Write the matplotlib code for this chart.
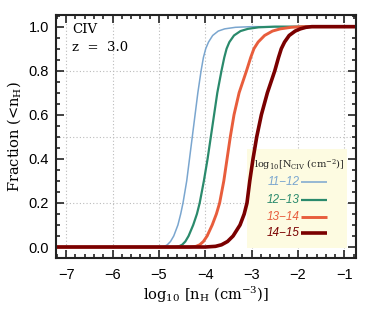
import matplotlib
matplotlib.use("Agg")
import matplotlib.pyplot as plt
from matplotlib.ticker import MultipleLocator
from matplotlib.patches import Rectangle

matplotlib.rcParams["mathtext.fontset"] = "dejavuserif"

# Fraction levels shared by all series
frac = [0.0, 0.003, 0.01, 0.025, 0.05, 0.1, 0.15, 0.2, 0.3, 0.4, 0.5, 0.6, 0.7, 0.8,
        0.86, 0.9, 0.93, 0.96, 0.98, 0.99, 0.997, 1.0]

# log10 n_H at which each series reaches the given fraction
x_11_12 = [-4.95, -4.88, -4.82, -4.75, -4.68, -4.59, -4.53, -4.48, -4.40, -4.34, -4.28,
           -4.22, -4.16, -4.09, -4.04, -3.99, -3.93, -3.84, -3.72, -3.58, -3.35, -3.00]
x_12_13 = [-4.65, -4.57, -4.50, -4.43, -4.36, -4.26, -4.18, -4.12, -4.03, -3.95, -3.88,
           -3.81, -3.74, -3.65, -3.59, -3.54, -3.48, -3.38, -3.24, -3.08, -2.85, -2.50]
x_13_14 = [-4.35, -4.20, -4.12, -4.04, -3.96, -3.85, -3.76, -3.69, -3.60, -3.53, -3.46,
           -3.38, -3.27, -3.11, -3.02, -2.95, -2.86, -2.72, -2.55, -2.38, -2.15, -1.90]
x_14_15 = [-4.00, -3.78, -3.65, -3.52, -3.40, -3.25, -3.16, -3.10, -3.04, -2.97, -2.89,
           -2.79, -2.66, -2.50, -2.42, -2.36, -2.29, -2.19, -2.06, -1.95, -1.83, -1.70]

labels = ["11\u221212", "12\u221213", "13\u221214", "14\u221215"]
colors = ["#7aa6cf", "#2a8a6c", "#e85d3c", "#7a0000"]
widths = [1.1, 1.6, 2.1, 2.6]

xmin, xmax = -7.22, -0.75

fig = plt.figure(figsize=(3.74, 3.12), dpi=100)
ax = fig.add_axes([0.1497, 0.173, 0.802, 0.779])

series = [x_11_12, x_12_13, x_13_14, x_14_15]
for xs, c, lw in zip(series, colors, widths):
    xx = [xmin] + xs + [xmax]
    yy = [0.0] + frac + [1.0]
    ax.plot(xx, yy, color=c, lw=lw, solid_capstyle="butt", solid_joinstyle="round", zorder=4)

ax.set_xlim(xmin, xmax)
ax.set_ylim(-0.05, 1.053)

ax.xaxis.set_major_locator(MultipleLocator(1))
ax.xaxis.set_minor_locator(MultipleLocator(0.2))
ax.yaxis.set_major_locator(MultipleLocator(0.2))
ax.yaxis.set_minor_locator(MultipleLocator(0.05))
ax.tick_params(which="both", direction="in", top=True, right=True, width=1.2, color="#222222")
ax.tick_params(which="major", length=6)
ax.tick_params(which="minor", length=3)
for s in ax.spines.values():
    s.set_linewidth(1.5)
    s.set_color("#222222")
    s.set_zorder(6)

tick_font = dict(family="Liberation Sans", size=10.5)
ax.set_xticks([-7, -6, -5, -4, -3, -2, -1])
ax.set_xticklabels(["\u22127", "\u22126", "\u22125", "\u22124", "\u22123", "\u22122", "\u22121"], **tick_font)
ax.set_yticks([0, 0.2, 0.4, 0.6, 0.8, 1.0])
ax.set_yticklabels(["0.0", "0.2", "0.4", "0.6", "0.8", "1.0"], **tick_font)
ax.tick_params(axis="x", pad=7)
ax.tick_params(axis="y", pad=5)

# grid
for gx in [-7, -6, -5, -4, -3, -2, -1]:
    ax.axvline(gx, color="#bbbbbb", lw=0.8, ls=(0, (1, 2)), zorder=1)
for gy in [0.2, 0.5, 0.8]:
    ax.axhline(gy, color="#bbbbbb", lw=0.8, ls=(0, (1, 2)), zorder=1)

serif = "DejaVu Serif"
ax.set_xlabel(r"log$_{10}$ [n$_{\rm H}$ (cm$^{-3}$)]", family=serif, fontsize=10.5, labelpad=2)
ax.set_ylabel(r"Fraction (<n$_{\rm H}$)", family=serif, fontsize=10.5, labelpad=4)

ax.text(0.055, 0.94, "CIV", transform=ax.transAxes, family=serif, fontsize=9.5, va="center")
ax.text(0.055, 0.865, "z  =  3.0", transform=ax.transAxes, family=serif, fontsize=9.5, va="center")

# legend box (drawn below the curves, as in the reference)
lx0, lx1 = -3.10, -0.935
ly0, ly1 = -0.006, 0.447
ax.add_patch(Rectangle((lx0, ly0), lx1 - lx0, ly1 - ly0, facecolor="#fdfbe1",
                       edgecolor="none", zorder=2))
ax.text(-1.98, 0.374, r"log$_{10}$[N$_{\rm CIV}$ (cm$^{-2}$)]", family=serif, fontsize=7.0,
        ha="center", va="center", zorder=5, color="#222222")
row_y = [0.293, 0.215, 0.138, 0.062]
for lab, c, lw, yr in zip(labels, colors, widths, row_y):
    ax.text(-1.97, yr, lab, color=c, family="Liberation Sans", style="italic", fontsize=8.5,
            ha="right", va="center", zorder=5)
    ax.plot([-1.925, -1.37], [yr, yr], color=c, lw=lw, solid_capstyle="butt", zorder=5)

fig.savefig("out.png", dpi=100)
